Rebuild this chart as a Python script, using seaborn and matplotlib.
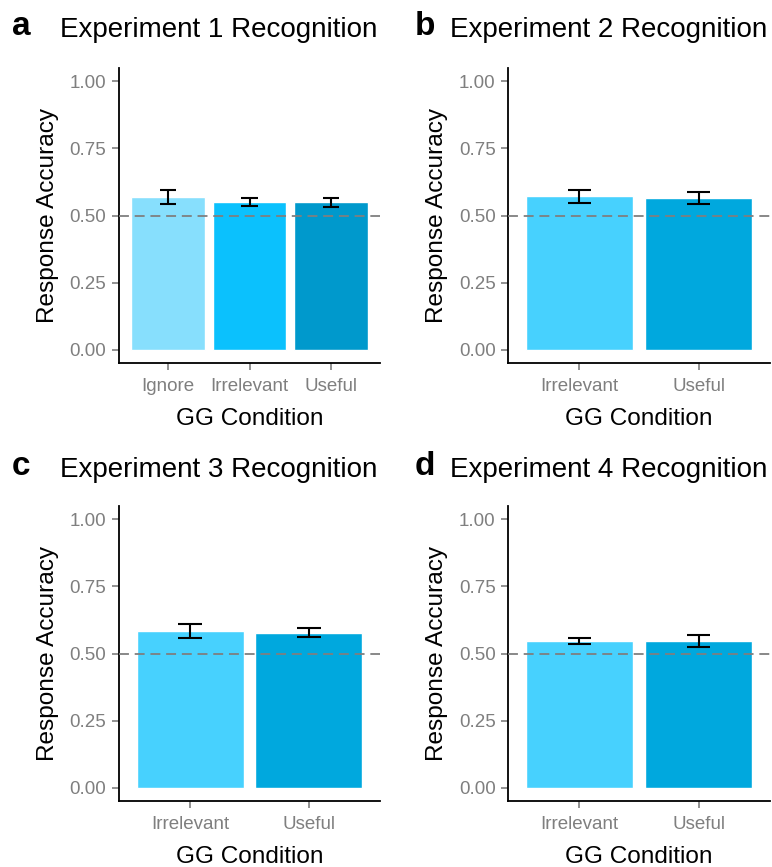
import numpy as np
import pandas as pd
import matplotlib
matplotlib.use("Agg")
import matplotlib.pyplot as plt
import seaborn as sns

# ---- data ----
titles = ["Experiment 1 Recognition", "Experiment 2 Recognition",
          "Experiment 3 Recognition", "Experiment 4 Recognition"]
panel_labels = ["a", "b", "c", "d"]

cats_1 = ["Ignore", "Irrelevant", "Useful"]
mean_1 = [0.570, 0.550, 0.549]
se_1 = [0.026, 0.015, 0.018]

cats_2 = ["Irrelevant", "Useful"]
mean_2 = [0.572, 0.565]
se_2 = [0.024, 0.023]

cats_3 = ["Irrelevant", "Useful"]
mean_3 = [0.584, 0.578]
se_3 = [0.025, 0.018]

cats_4 = ["Irrelevant", "Useful"]
mean_4 = [0.546, 0.546]
se_4 = [0.012, 0.023]

colors_3 = ["#87DFFD", "#0BC1FD", "#0099CC"]
colors_2 = ["#47D1FE", "#00A8DE"]

chance = 0.5
yticks = [0.00, 0.25, 0.50, 0.75, 1.00]
ytick_labels = ["0.00", "0.25", "0.50", "0.75", "1.00"]

sns.set_style("white")
plt.rcParams['font.family'] = ['Liberation Sans', 'DejaVu Sans']

W, H = 772, 867
fig = plt.figure(figsize=(W / 100, H / 100), dpi=100)

# axes rectangles in pixels: left, top, right, bottom
rects = [(119, 68, 380, 363), (508, 68, 770, 363),
         (119, 506, 380, 801), (508, 506, 770, 801)]
title_pos = [(60, 37), (450, 37), (60, 477), (450, 477)]
label_pos = [(12, 35), (415, 35), (12, 475), (415, 475)]

panels = [(cats_1, mean_1, se_1, colors_3), (cats_2, mean_2, se_2, colors_2),
          (cats_3, mean_3, se_3, colors_2), (cats_4, mean_4, se_4, colors_2)]

grey = "#7F7F7F"
for i, (cats, means, ses, cols) in enumerate(panels):
    l, t, r, b = rects[i]
    ax = fig.add_axes([l / W, (H - b) / H, (r - l) / W, (b - t) / H])
    df = pd.DataFrame({"cond": cats, "acc": means, "se": ses})
    sns.barplot(data=df, x="cond", y="acc", hue="cond", palette=cols,
                legend=False, ax=ax, width=0.9, saturation=1, errorbar=None,
                order=cats, hue_order=cats)
    pos = np.arange(len(cats))
    lo = df["acc"] - df["se"]
    hi = df["acc"] + df["se"]
    ax.vlines(pos, lo, hi, color="black", lw=1.5, zorder=4)
    ax.hlines(lo, pos - 0.1, pos + 0.1, color="black", lw=1.5, zorder=4)
    ax.hlines(hi, pos - 0.1, pos + 0.1, color="black", lw=1.5, zorder=4)
    ax.axhline(chance, color=grey, lw=1.3, ls=(0, (5.5, 3.2)), zorder=5)
    ax.set_xlim(-0.6, len(cats) - 0.4)
    ax.set_ylim(-0.05, 1.05)
    ax.set_yticks(yticks)
    ax.set_yticklabels(ytick_labels)
    ax.tick_params(axis="both", colors=grey, labelcolor=grey, labelsize=13.5,
                   length=5, width=1.2, pad=4, direction="out")
    ax.tick_params(axis="x", pad=6)
    ax.tick_params(axis="both", which="both", bottom=True, left=True)
    sns.despine(ax=ax)
    for s in ["left", "bottom"]:
        ax.spines[s].set_color("black")
        ax.spines[s].set_linewidth(1.3)
    ax.set_xlabel("GG Condition", fontsize=17.6, color="black", labelpad=9)
    ax.set_ylabel("Response Accuracy", fontsize=17.6, color="black", labelpad=8)
    tx, ty = title_pos[i]
    fig.text(tx / W, 1 - ty / H, titles[i], fontsize=20, color="black",
             va="baseline", ha="left")
    lx, ly = label_pos[i]
    fig.text(lx / W, 1 - ly / H, panel_labels[i], fontsize=24, fontweight="bold",
             color="black", va="baseline", ha="left")

fig.savefig("out.png", dpi=100, facecolor="white")
